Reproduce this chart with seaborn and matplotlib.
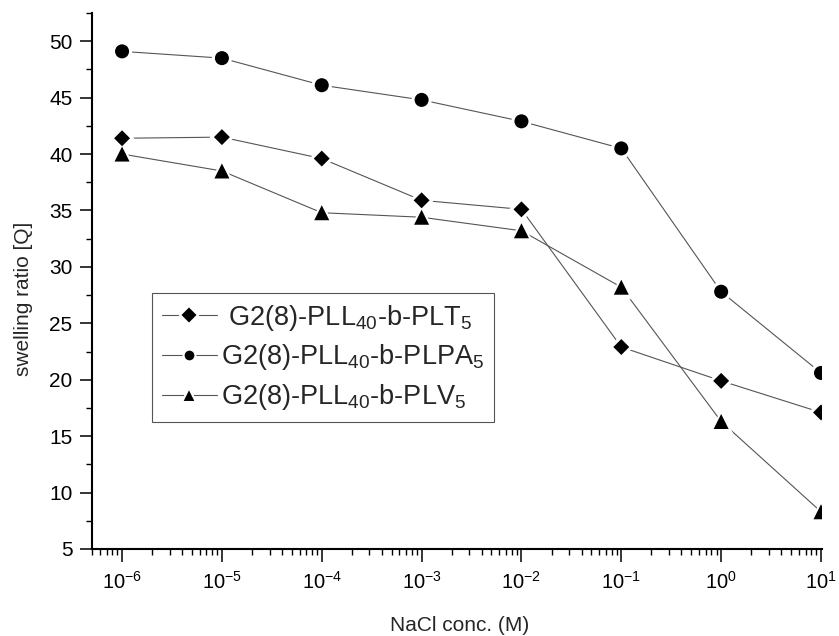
import numpy as np
import matplotlib
matplotlib.use("Agg")
import matplotlib.pyplot as plt
from matplotlib.lines import Line2D
from matplotlib.ticker import LogLocator, MultipleLocator, NullFormatter, FixedLocator
import seaborn as sns

# ---- data ----
conc = [1e-6, 1e-5, 1e-4, 1e-3, 1e-2, 1e-1, 1e0, 1e1]
swell_plt = [41.4, 41.5, 39.6, 35.9, 35.1, 22.9, 19.9, 17.1]
swell_plpa = [49.1, 48.5, 46.1, 44.8, 42.9, 40.5, 27.8, 20.6]
swell_plv = [40.0, 38.5, 34.8, 34.4, 33.2, 28.2, 16.3, 8.3]
labels = [" G2(8)-PLL$_{40}$-b-PLT$_5$",
          "G2(8)-PLL$_{40}$-b-PLPA$_5$",
          "G2(8)-PLL$_{40}$-b-PLV$_5$"]
x_label = "NaCl conc. (M)"
y_label = "swelling ratio [Q]"

sns.set_style("ticks")
plt.rcParams["font.family"] = ["Liberation Sans", "DejaVu Sans"]
plt.rcParams["mathtext.fontset"] = "custom"
plt.rcParams["mathtext.rm"] = "Liberation Sans"
plt.rcParams["mathtext.it"] = "Liberation Sans:italic"
plt.rcParams["mathtext.bf"] = "Liberation Sans:bold"
plt.rcParams["mathtext.default"] = "regular"

fig = plt.figure(figsize=(8.39, 6.36), dpi=100)
ax = fig.add_axes([92 / 839, 1 - 549 / 636, (822 - 92) / 839, (549 - 13) / 636])
ax.set_xscale("log")

line_col = "#555555"
series = [
    (swell_plt, "D", 66, 160),
    (swell_plpa, "o", 102, 210),
    (swell_plv, "^", 117, 300),
]

for vals, mk, s_black, s_white in series:
    sns.lineplot(x=conc, y=vals, ax=ax, color=line_col, linewidth=0.8,
                 zorder=2, sort=False)
for vals, mk, s_black, s_white in series:
    sns.scatterplot(x=conc, y=vals, ax=ax, marker=mk, s=s_white,
                    color="white", edgecolor="none", linewidth=0, zorder=3)
for vals, mk, s_black, s_white in series:
    sns.scatterplot(x=conc, y=vals, ax=ax, marker=mk, s=s_black,
                    color="black", edgecolor="none", linewidth=0, zorder=4)

ax.set_xlim(5e-7, 10 ** 1.01)
ax.set_ylim(5, 52.5)
ax.yaxis.set_major_locator(MultipleLocator(5))
ax.yaxis.set_minor_locator(MultipleLocator(2.5))
ax.xaxis.set_major_locator(FixedLocator(conc))
ax.xaxis.set_minor_locator(LogLocator(base=10, subs=np.arange(2, 10), numticks=20))
ax.xaxis.set_minor_formatter(NullFormatter())

sns.despine(ax=ax)
for sp in ("left", "bottom"):
    ax.spines[sp].set_linewidth(1.5)
    ax.spines[sp].set_color("black")

ax.tick_params(which="major", direction="out", length=9, width=1.1,
               labelsize=15, color="black", labelcolor="black")
ax.tick_params(which="minor", direction="out", length=4.5, width=1.0, color="black")
ax.tick_params(axis="y", which="major", pad=5)
ax.tick_params(axis="x", which="major", pad=7, labelsize=14.5)

ax.set_xlabel(x_label, fontsize=15)
ax.xaxis.set_label_coords(0.5 + 3 / 730, -0.125)
ax.set_ylabel(y_label, fontsize=15)
ax.yaxis.set_label_coords(-0.081, 0.466)

handles = []
for mk, ms in zip(["D", "o", "^"], [9.5, 8.5, 10.0]):
    h = Line2D([0], [0], color=line_col, linewidth=0.8, marker=mk,
               markersize=ms, markerfacecolor="black",
               markeredgecolor="white", markeredgewidth=1.5)
    handles.append(h)

leg = ax.legend(handles, labels, loc="upper left",
                bbox_to_anchor=(0.082, 0.478), borderaxespad=0,
                fontsize=19.5, frameon=True, fancybox=False, framealpha=1,
                edgecolor="#555555", borderpad=0.36, labelspacing=0.36,
                handlelength=2.05, handletextpad=0.15, numpoints=1)
leg.get_frame().set_linewidth(0.8)

fig.savefig("out.png", dpi=100)
